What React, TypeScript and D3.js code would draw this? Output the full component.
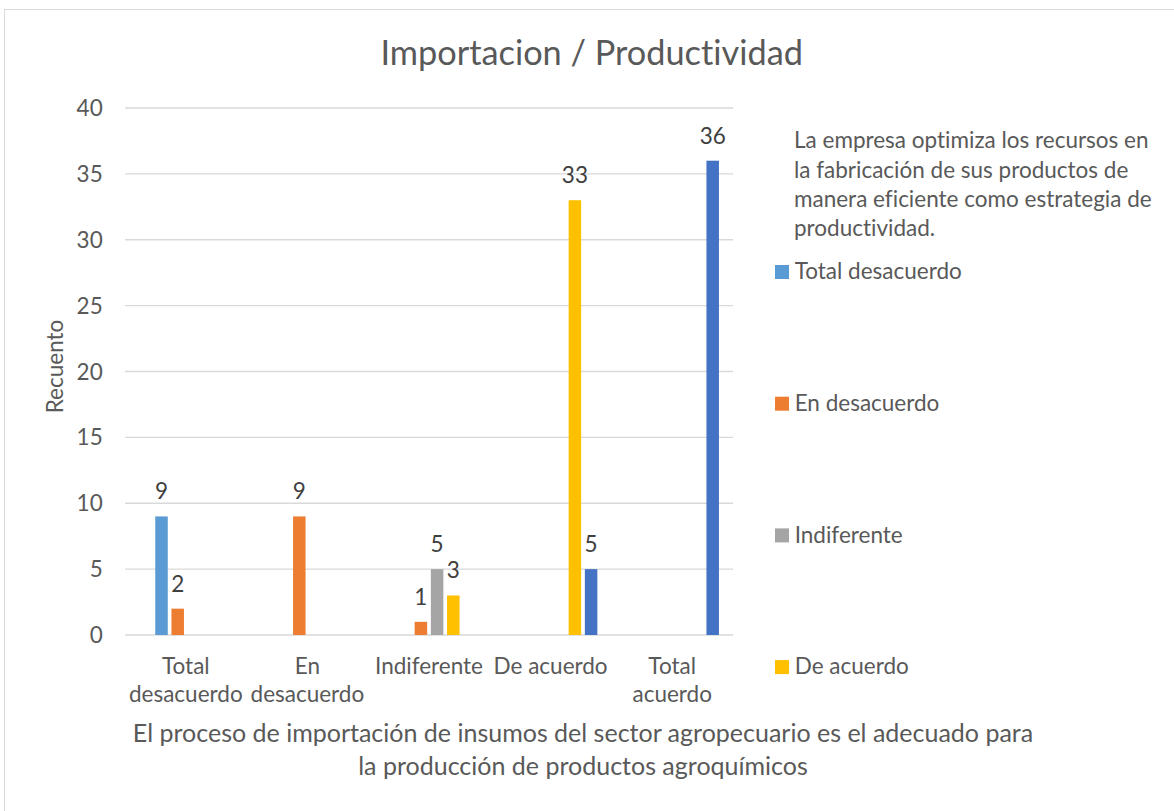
import React from "react";
import * as d3 from "d3";

// ---- data ----
const categories = ["Total desacuerdo", "En desacuerdo", "Indiferente", "De acuerdo", "Total acuerdo"];
const categoryLines = [["Total", "desacuerdo"], ["En", "desacuerdo"], ["Indiferente"], ["De acuerdo"], ["Total", "acuerdo"]];
const seriesNames = ["Total desacuerdo", "En desacuerdo", "Indiferente", "De acuerdo", "Total acuerdo"];
const seriesColors = ["#5B9BD5", "#ED7D31", "#A5A5A5", "#FFC000", "#4472C4"];
// values per series, aligned with categories (null = no bar)
const totalDesacuerdo = [9, null, null, null, null];
const enDesacuerdo = [2, 9, 1, null, null];
const indiferente = [null, null, 5, null, null];
const deAcuerdo = [null, null, 3, 33, null];
const totalAcuerdo = [null, null, null, 5, 36];
const seriesValues = [totalDesacuerdo, enDesacuerdo, indiferente, deAcuerdo, totalAcuerdo];
const yTicks = [0, 5, 10, 15, 20, 25, 30, 35, 40];
const title = "Importacion / Productividad";
const yTitle = "Recuento";
const xTitleLines = [
  "El proceso de importación de insumos del sector agropecuario es el adecuado para",
  "la producción de productos agroquímicos",
];
const legendTitleLines = [
  "La empresa optimiza los recursos en",
  "la fabricación de sus productos de",
  "manera eficiente como estrategia de",
  "productividad.",
];
const legendShown = 4; // only the first four entries fit in the legend box

const FONT = "Lato, 'Open Sans', sans-serif";
const TEXT = "#595959";
const FS = 22.5;

export default function App() {
  const W = 1174, H = 811;
  const plotL = 125, plotR = 733, plotT = 108, plotB = 635;
  const x0 = d3.scaleBand<string>().domain(categories).range([plotL, plotR]).padding(0);
  // first slot is an empty series (the question header)
  const slotKeys = ["__header__", ...seriesNames];
  const x1 = d3.scaleBand<string>().domain(slotKeys).range([0, x0.bandwidth()]).paddingInner(0.228).paddingOuter(0.867);
  const y = d3.scaleLinear().domain([0, 40]).range([plotB, plotT]);

  return (
    <svg width={W} height={H} style={{ position: "absolute", left: 0, top: 0, fontVariantLigatures: "none", fontFeatureSettings: "'liga' 0" }} fontFamily={FONT}>
      <rect x={0} y={0} width={W} height={H} fill="#fff" />
      <rect x={4.5} y={9.5} width={W + 10} height={H + 10} fill="none" stroke="#D9D9D9" strokeWidth={1} />
      <text x={591.7} y={65} textAnchor="middle" fontSize={34.3} fill={TEXT}>{title}</text>

      {yTicks.map((t) => (
        <g key={t}>
          <line x1={plotL} x2={plotR} y1={y(t)} y2={y(t)} stroke="#D9D9D9" strokeWidth={1.4} />
          <text x={102.7} y={y(t) + 8} textAnchor="end" fontSize={FS} fill={TEXT}>{t}</text>
        </g>
      ))}

      {seriesNames.map((s, si) =>
        seriesValues[si].map((v, ci) => {
          if (v === null) return null;
          const bx = (x0(categories[ci]) as number) + (x1(s) as number);
          const bw = x1.bandwidth();
          return (
            <g key={s + ci}>
              <rect x={bx} y={y(v)} width={bw} height={y(0) - y(v)} fill={seriesColors[si]} />
              <text x={bx + bw / 2} y={y(v) - 17} textAnchor="middle" fontSize={FS} fill="#404040">{v}</text>
            </g>
          );
        })
      )}

      {categories.map((c, ci) => (
        <text key={c} textAnchor="middle" fontSize={FS} fill={TEXT}>
          {categoryLines[ci].map((ln, li) => (
            <tspan key={li} x={(x0(c) as number) + x0.bandwidth() / 2} y={674 + li * 28}>{ln}</tspan>
          ))}
        </text>
      ))}

      <text transform={`translate(63.3,366.5) rotate(-90)`} textAnchor="middle" fontSize={FS} fill={TEXT}>{yTitle}</text>

      <text textAnchor="middle" fontSize={25} fill={TEXT}>
        {xTitleLines.map((ln, i) => (
          <tspan key={i} x={583} y={742 + i * 32.5}>{ln}</tspan>
        ))}
      </text>

      <text fontSize={FS} fill={TEXT}>
        {legendTitleLines.map((ln, i) => (
          <tspan key={i} x={794} y={148.3 + i * 29.3}>{ln}</tspan>
        ))}
      </text>
      {seriesNames.slice(0, legendShown).map((s, i) => {
        const base = 279.3 + i * 131.7;
        return (
          <g key={s}>
            <rect x={775} y={base - 14.3} width={14} height={14} fill={seriesColors[i]} />
            <text x={794.7} y={base} fontSize={FS} fill={TEXT}>{s}</text>
          </g>
        );
      })}
    </svg>
  );
}
